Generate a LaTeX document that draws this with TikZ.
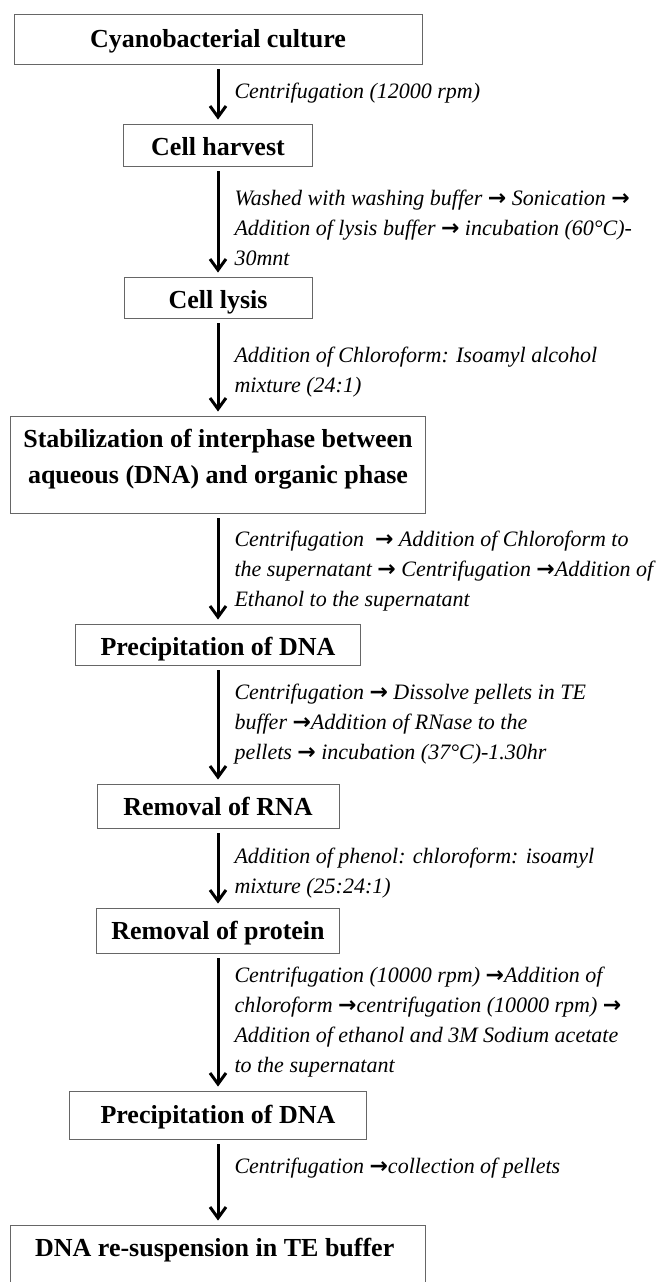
\documentclass[tikz,border=0pt]{standalone}
\usepackage{fontspec}
\setmainfont{Liberation Serif}
\newfontfamily\arrowfont{DejaVu Sans}
\usetikzlibrary{arrows.meta}
\newcommand{\thento}{{\arrowfont\bfseries\char"2192}}

\begin{document}
\begin{tikzpicture}[x=1pt, y=1pt, style={
  box/.style={
    draw=black!60,
    line width=0.9pt,
    inner sep=0pt,
    align=center,
    font=\bfseries\fontsize{26}{36}\selectfont,
  },
  onebox/.style={
    box,
    text height=21pt,
    text depth=0pt,
  },
  widebox/.style={
    box,
    minimum width=415pt,
    minimum height=97pt,
  },
  stepnote/.style={
    right, xshift=15pt,
    inner sep=0pt,
    align=left,
    font=\itshape\fontsize{22}{30}\selectfont,
  },
  myarrow/.style={-{Straight Barb[length=11pt, width=16pt]}, line width=3pt,
    shorten <=5pt, shorten >=4pt}
}]
\useasboundingbox (0,0) rectangle (668,-1282);
\draw[]
  node[onebox, text height=17pt, minimum width=408pt, minimum height=50pt]
    (culture) at (218,-39) {Cyanobacterial culture}
  node[onebox, minimum width=189pt, minimum height=42pt,
    below of=culture, node distance=106pt] (harvest) {Cell harvest}
  node[onebox, text height=22pt, minimum width=188pt, minimum height=41pt,
    below of=harvest, node distance=152.5pt] (lysis) {Cell lysis}
  node[widebox, below of=lysis, node distance=167pt] (interphase) {
    Stabilization of interphase between\\
    aqueous (DNA) and organic phase\rule[-16pt]{0pt}{0pt}
  }
  node[onebox, text height=22pt, minimum width=285pt, minimum height=41pt,
    below of=interphase, node distance=180pt] (precip) {Precipitation of DNA}
  node[onebox, text height=19pt, minimum width=242pt, minimum height=44pt,
    below of=precip, node distance=161.5pt] (rna) {Removal of RNA}
  node[onebox, text height=18pt, minimum width=243pt, minimum height=45pt,
    below of=rna, node distance=124.5pt] (protein) {Removal of protein}
  node[onebox, text height=17pt, minimum width=297pt, minimum height=48pt,
    below of=protein, node distance=184.5pt] (precipb) {Precipitation of DNA}
  node[widebox, below of=precipb, node distance=158.5pt] (resusp) {
    DNA re-suspension in TE buffer\rule[-52pt]{0pt}{0pt}
  }
;
\draw[myarrow] (culture) -- (harvest)
  node[pos=0.45, stepnote, yshift=-2pt] {Centrifugation (12000 rpm)};
\draw[myarrow] (harvest) -- (lysis)
  node[midway, stepnote, yshift=-6pt] {
    Washed with washing buffer \thento{} Sonication \thento\\
    Addition of lysis buffer \thento{} incubation (60°C)-\\
    30mnt
  };
\draw[myarrow] (lysis) -- (interphase)
  node[midway, stepnote, yshift=-5pt] {
    Addition of Chloroform: Isoamyl alcohol\\
    mixture (24:1)
  };
\draw[myarrow] (interphase) -- (precip)
  node[midway, stepnote, yshift=-3pt] {
    Centrifugation~ \thento{} Addition of Chloroform to\\
    the supernatant \thento{} Centrifugation \thento{}Addition of\\
    Ethanol to the supernatant
  };
\draw[myarrow] (precip) -- (rna)
  node[midway, stepnote] {
    Centrifugation \thento{} Dissolve pellets in TE\\
    buffer \thento{}Addition of RNase to the\\
    pellets \thento{} incubation (37°C)-1.30hr
  };
\draw[myarrow] (rna) -- (protein)
  node[midway, stepnote, yshift=-5pt] {
    Addition of phenol: chloroform: isoamyl\\
    mixture (25:24:1)
  };
\draw[myarrow] (protein) -- (precipb)
  node[midway, stepnote] {
    Centrifugation (10000 rpm) \thento{}Addition of\\
    chloroform \thento{}centrifugation (10000 rpm) \thento\\
    Addition of ethanol and 3M Sodium acetate\\
    to the supernatant
  };
\draw[myarrow] (precipb) -- (resusp)
  node[pos=0.3, stepnote, yshift=-3pt] {Centrifugation \thento{}collection of pellets};
\end{tikzpicture}
\end{document}
